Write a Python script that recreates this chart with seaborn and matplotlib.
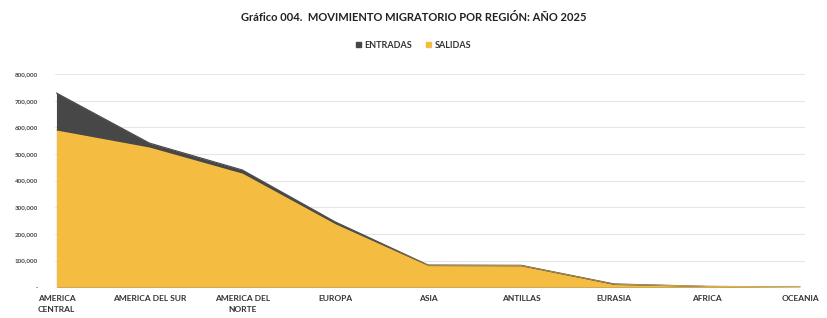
import numpy as np
import pandas as pd
import seaborn as sns
import matplotlib.pyplot as plt
from matplotlib.patches import Patch
from matplotlib.ticker import FuncFormatter

regiones = ["AMERICA\nCENTRAL", "AMERICA DEL SUR", "AMERICA DEL\nNORTE", "EUROPA", "ASIA",
            "ANTILLAS", "EURASIA", "AFRICA", "OCEANIA"]
entradas = [729000, 541000, 440000, 245000, 83000, 82000, 12000, 3000, 1000]
salidas = [590000, 526000, 428000, 238000, 81000, 80000, 10000, 2500, 800]

df = pd.DataFrame({"region": regiones, "ENTRADAS": entradas, "SALIDAS": salidas})
df["pos"] = np.arange(len(df))
largo = df.melt(id_vars=["region", "pos"], value_vars=["ENTRADAS", "SALIDAS"],
                var_name="serie", value_name="valor")

sns.set_style("white")
plt.rcParams['font.family'] = ['Lato', 'DejaVu Sans']

colores = {"ENTRADAS": "#474747", "SALIDAS": "#F4BC41"}

fig = plt.figure(figsize=(8.27, 3.18), dpi=100)
ax = fig.add_axes([0.066, 0.097, 0.907, 0.67])

sns.lineplot(data=largo, x="pos", y="valor", hue="serie", palette=colores,
             linewidth=0.8, legend=False, ax=ax)
for serie in ["ENTRADAS", "SALIDAS"]:
    ax.fill_between(df["pos"], df[serie], color=colores[serie], linewidth=0, zorder=2)

ax.set_xlim(-0.02, len(df) - 1 + 0.05)
ax.set_ylim(0, 800000)
ax.set_yticks(np.arange(0, 800001, 100000))
ax.yaxis.set_major_formatter(FuncFormatter(lambda v, p: "-" if v == 0 else f"{int(v):,}"))
ax.set_xticks(df["pos"])
ax.set_xticklabels(regiones, fontsize=6, fontweight="bold", color="#333333", linespacing=1.6)
ax.tick_params(axis="y", labelsize=4.5, colors="#444444", length=0, pad=12)
ax.tick_params(axis="x", length=0, pad=6)
for lbl in ax.get_yticklabels():
    lbl.set_fontweight("bold")
ax.grid(axis="y", color="#e6e6e6", linewidth=0.8)
ax.set_axisbelow(True)
ax.set_xlabel("")
ax.set_ylabel("")
sns.despine(ax=ax, left=True, bottom=True)

fig.text(0.5, 0.945, "Gráfico 004.  MOVIMIENTO MIGRATORIO POR REGIÓN: AÑO 2025",
         ha="center", va="center", fontsize=8, fontweight="bold", color="#222222")
handles = [Patch(color=colores["ENTRADAS"], label="ENTRADAS"),
           Patch(color=colores["SALIDAS"], label="SALIDAS")]
leg = fig.legend(handles=handles, loc="center", bbox_to_anchor=(0.5, 0.858), ncol=2,
                 frameon=False, fontsize=6.5, handlelength=0.6, handleheight=0.6,
                 columnspacing=1.5, handletextpad=0.4)
for t in leg.get_texts():
    t.set_fontweight("bold")
    t.set_color("#333333")

fig.savefig("out.png", dpi=100)
